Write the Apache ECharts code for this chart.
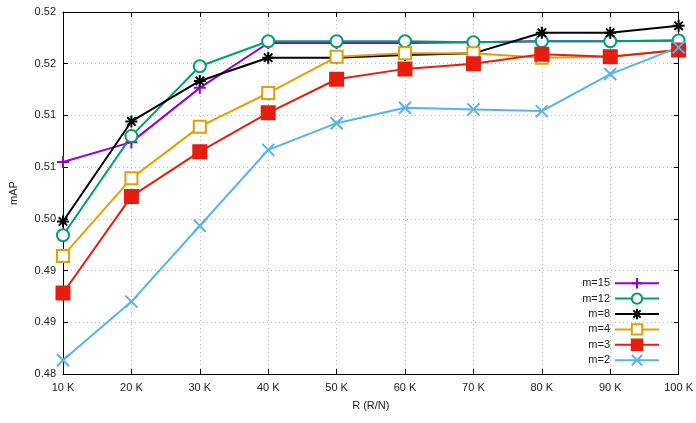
<!DOCTYPE html>
<html>
<head>
<meta charset="utf-8">
<script src="https://cdn.jsdelivr.net/npm/echarts@6/dist/echarts.min.js"></script>
<style>
  html, body { margin: 0; padding: 0; background: #fff; }
  #chart { width: 696px; height: 423px; }
</style>
</head>
<body>
<div id="chart"></div>
<script>
// x categories (R)
var categories = ['10 K', '20 K', '30 K', '40 K', '50 K', '60 K', '70 K', '80 K', '90 K', '100 K'];
// y tick labels as printed on the plot (bottom -> top)
var yTickLabels = ['0.48', '0.49', '0.49', '0.50', '0.51', '0.51', '0.52', '0.52'];

// mAP values
var m15 = [0.5046, 0.5069, 0.5132, 0.5184, 0.5184, 0.5184, 0.5185, 0.5186, 0.5186, 0.5187];
var m12 = [0.4961, 0.5076, 0.5157, 0.5186, 0.5186, 0.5186, 0.5185, 0.5186, 0.5186, 0.5187];
var m8  = [0.4977, 0.5093, 0.5140, 0.5167, 0.5167, 0.5170, 0.5172, 0.5196, 0.5196, 0.5204];
var m4  = [0.4937, 0.5027, 0.5087, 0.5126, 0.5168, 0.5172, 0.5172, 0.5167, 0.5168, 0.5176];
var m3  = [0.4894, 0.5006, 0.5058, 0.5103, 0.5142, 0.5154, 0.5160, 0.5171, 0.5168, 0.5176];
var m2  = [0.4816, 0.4884, 0.4972, 0.5060, 0.5091, 0.5109, 0.5107, 0.5105, 0.5148, 0.5179];

var yMin = 0.48, yStep = 0.006, yMax = 0.522;

var chart = echarts.init(document.getElementById('chart'));

var fontFamily = '"Liberation Sans", Arial, sans-serif';
var textColor = '#222';

function makeSeries(name, data, color, symbol, size) {
  return {
    name: name,
    type: 'line',
    data: data,
    symbol: symbol,
    symbolSize: size,
    showAllSymbol: true,
    lineStyle: { color: color, width: 2 },
    itemStyle: { color: color, borderColor: color, borderWidth: 2 },
    emphasis: { disabled: true },
    animation: false
  };
}

// gnuplot-like point types
var plusPath = 'path://M5,0V10M0,5H10';
var starPath = 'path://M5,0V10M0,5H10M1.5,1.5L8.5,8.5M8.5,1.5L1.5,8.5';
var crossPath = 'path://M0,0L10,10M10,0L0,10';

var option = {
  animation: false,
  textStyle: { fontFamily: fontFamily },
  grid: { left: 61, right: 16, top: 12, bottom: 49 },
  legend: {
    orient: 'vertical',
    right: 31,
    top: 272,
    align: 'right',
    itemWidth: 44,
    itemHeight: 13,
    itemGap: 3,
    textStyle: { fontSize: 11, color: textColor, fontFamily: fontFamily },
    data: ['m=15', 'm=12', 'm=8', 'm=4', 'm=3', 'm=2']
  },
  xAxis: [{
    type: 'category',
    data: categories,
    boundaryGap: false,
    name: 'R (R/N)',
    nameLocation: 'middle',
    nameGap: 26,
    nameTextStyle: { fontSize: 11, color: textColor },
    axisLine: { lineStyle: { color: '#000', width: 1 } },
    axisTick: { inside: true, length: 5, lineStyle: { color: '#000' } },
    axisLabel: { fontSize: 11, color: textColor, margin: 8 },
    splitLine: { show: true, lineStyle: { color: '#bbb', type: [1, 3], width: 1 } }
  }, {
    type: 'category',
    data: categories,
    boundaryGap: false,
    position: 'top',
    axisLine: { lineStyle: { color: '#000', width: 1 } },
    axisTick: { inside: true, length: 5, lineStyle: { color: '#000' } },
    axisLabel: { show: false },
    splitLine: { show: false }
  }],
  yAxis: [{
    type: 'value',
    min: yMin,
    max: yMax,
    interval: yStep,
    name: 'mAP',
    nameLocation: 'middle',
    nameGap: 44,
    nameTextStyle: { fontSize: 11, color: textColor },
    axisLine: { show: true, lineStyle: { color: '#000', width: 1 } },
    axisTick: { show: true, inside: true, length: 5, lineStyle: { color: '#000' } },
    axisLabel: {
      fontSize: 11, color: textColor, margin: 7,
      formatter: function (v) {
        var i = Math.round((v - yMin) / yStep);
        return yTickLabels[i];
      }
    },
    splitLine: { show: true, lineStyle: { color: '#bbb', type: [1, 3], width: 1 } }
  }, {
    type: 'value',
    min: yMin,
    max: yMax,
    interval: yStep,
    position: 'right',
    axisLine: { show: true, lineStyle: { color: '#000', width: 1 } },
    axisTick: { show: true, inside: true, length: 5, lineStyle: { color: '#000' } },
    axisLabel: { show: false },
    splitLine: { show: false }
  }],
  series: [
    makeSeries('m=15', m15, '#9400d3', plusPath, 12),
    makeSeries('m=12', m12, '#009e73', 'emptyCircle', 12),
    makeSeries('m=8', m8, '#000000', starPath, 12),
    makeSeries('m=4', m4, '#e69f00', 'emptyRect', 12),
    makeSeries('m=3', m3, '#e51e10', 'rect', 13),
    makeSeries('m=2', m2, '#56b4e9', crossPath, 12)
  ]
};

chart.setOption(option);
</script>
</body>
</html>
